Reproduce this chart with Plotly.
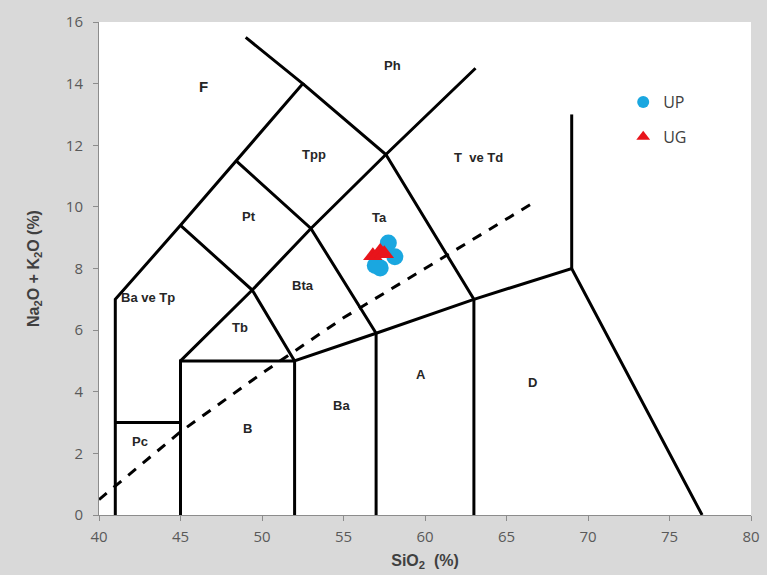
import plotly.graph_objects as go

# Field boundary polylines (SiO2, Na2O+K2O)
boundary_lines = [
    [(41, 0), (41, 7), (45, 9.4), (48.4, 11.5), (52.5, 14), (49.0, 15.5)],
    [(41, 3), (45, 3)],
    [(45, 0), (45, 5), (52, 5)],
    [(45, 5), (49.4, 7.3), (53, 9.3), (57.6, 11.7), (63.1, 14.5)],
    [(52, 0), (52, 5), (57, 5.9), (63, 7), (69, 8), (77, 0)],
    [(57, 0), (57, 5.9)],
    [(63, 0), (63, 7)],
    [(69, 8), (69, 13)],
    [(45, 9.4), (49.4, 7.3), (52, 5)],
    [(48.4, 11.5), (53, 9.3), (57, 5.9)],
    [(52.5, 14), (57.6, 11.7), (63, 7)],
]

# Alkaline / subalkaline dashed divider
divider_x = [40, 45, 50, 55, 60, 66.7]
divider_y = [0.5, 2.7, 4.6, 6.4, 8.0, 10.15]

# Field labels
label_text = ["F", "Ph", "Tpp", "T  ve Td", "Pt", "Ta", "Bta", "Ba ve Tp", "Tb", "A", "D", "Ba", "B", "Pc"]
label_x = [46.4, 58.0, 53.2, 63.3, 49.2, 57.2, 52.5, 43.0, 48.65, 59.75, 66.6, 54.9, 49.1, 42.5]
label_y = [13.9, 14.6, 11.7, 11.6, 9.7, 9.65, 7.45, 7.05, 6.1, 4.55, 4.3, 3.55, 2.8, 2.4]

# Samples
up_sio2 = [57.75, 58.15, 57.25, 56.95]
up_alk = [8.83, 8.38, 8.02, 8.1]
ug_sio2 = [56.8, 57.25, 57.5]
ug_alk = [8.41, 8.55, 8.48]

x_ticks = [40, 45, 50, 55, 60, 65, 70, 75, 80]
y_ticks = [0, 2, 4, 6, 8, 10, 12, 14, 16]

fig = go.Figure()

bx, by = [], []
for seg in boundary_lines:
    for (a, b) in seg:
        bx.append(a)
        by.append(b)
    bx.append(None)
    by.append(None)

fig.add_trace(go.Scatter(x=bx, y=by, mode="lines", line=dict(color="black", width=3),
                         showlegend=False, hoverinfo="skip"))
fig.add_trace(go.Scatter(x=divider_x, y=divider_y, mode="lines",
                         line=dict(color="black", width=3, dash="10px,9px"),
                         showlegend=False, hoverinfo="skip"))

fig.add_trace(go.Scatter(x=up_sio2, y=up_alk, mode="markers", name="UP",
                         marker=dict(symbol="circle", size=17, color="#1aa7e0"),
                         legendgroup="a"))
fig.add_trace(go.Scatter(x=ug_sio2, y=ug_alk, mode="markers", name="UG",
                         marker=dict(symbol="triangle-up", size=17, color="#e8141b"),
                         legendgroup="b"))

for t, x, y in zip(label_text, label_x, label_y):
    fig.add_annotation(x=x, y=y, text="<b>" + t + "</b>", showarrow=False,
                       font=dict(family="Liberation Sans, Arial", size=13, color="#262626"),
                       xanchor="center", yanchor="middle")
fig.layout.annotations[0].font.size = 15

fig.update_layout(
    width=767, height=575,
    margin=dict(l=99, r=16, t=22, b=60, autoexpand=False),
    paper_bgcolor="#d9d9d9",
    plot_bgcolor="white",
    font=dict(family="Liberation Sans, Arial", color="#595959"),
    legend=dict(x=0.804, y=0.872, xanchor="left", yanchor="top",
                bgcolor="rgba(0,0,0,0)", font=dict(size=16, color="#404040",
                family="Open Sans, Liberation Sans"),
                itemsizing="constant", tracegroupgap=11, traceorder="grouped",
                itemwidth=30),
    xaxis=dict(range=[40, 80], tickvals=x_ticks, showgrid=False, zeroline=False,
               showline=True, linecolor="#8c8c8c", linewidth=1, automargin=False,
               ticks="outside", ticklen=5, tickcolor="#8c8c8c", ticklabelstandoff=3,
               tickfont=dict(size=15, color="#595959", family="Open Sans, Liberation Sans"),
               title=dict(text="<b>SiO<sub>2</sub>  (%)</b>", standoff=9,
                          font=dict(size=16, color="#404040", family="Liberation Sans, Arial"))),
    yaxis=dict(range=[0, 16], tickvals=y_ticks, showgrid=False, zeroline=False,
               showline=True, linecolor="#8c8c8c", linewidth=1, automargin=False,
               ticks="outside", ticklen=5, tickcolor="#8c8c8c", ticklabelstandoff=7,
               tickfont=dict(size=15, color="#595959", family="Open Sans, Liberation Sans"),
               title=dict(text="<b>Na<sub>2</sub>O + K<sub>2</sub>O (%)</b>", standoff=22,
                          font=dict(size=16, color="#404040", family="Liberation Sans, Arial"))),
)

fig.write_html("out.html", config={"displayModeBar": False},
               post_script="document.body.style.margin='0';document.body.style.overflow='hidden';")
